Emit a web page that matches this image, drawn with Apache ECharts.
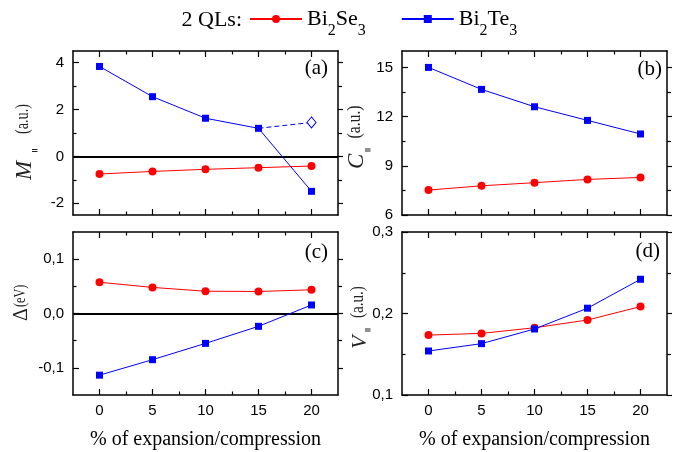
<!DOCTYPE html>
<html><head><meta charset="utf-8">
<script src="https://cdn.jsdelivr.net/npm/echarts@6/dist/echarts.min.js"></script>
<style>html,body{margin:0;padding:0;background:#fff}#c{width:685px;height:452px}</style>
</head><body><div id="c"></div>
<script>
// ---- data ----
const xValues = [0, 5, 10, 15, 20];
const xTicks = [0, 5, 10, 15, 20];
const xMinorTicks = [2.5, 7.5, 12.5, 17.5];
const legendNames = ['Bi2Se3', 'Bi2Te3'];
const legendPrefix = '2 QLs:';
const xTitle = '% of expansion/compression';
const panelLabels = ['(a)', '(b)', '(c)', '(d)'];

// (a) M|| (a.u.)
const M_Se = [-0.75, -0.64, -0.55, -0.48, -0.41];
const M_Te = [3.84, 2.55, 1.63, 1.20, -1.49];
const M_Te_alt = [null, null, null, 1.20, 1.45];
// (b) C|| (a.u.)
const C_Se = [7.52, 7.78, 7.97, 8.17, 8.29];
const C_Te = [15.0, 13.66, 12.60, 11.77, 10.94];
// (c) Delta (eV)
const D_Se = [0.0575, 0.048, 0.041, 0.0405, 0.0436];
const D_Te = [-0.1135, -0.085, -0.055, -0.0236, 0.0157];
// (d) V|| (a.u.)
const V_Se = [0.1735, 0.1756, 0.1825, 0.192, 0.2085];
const V_Te = [0.154, 0.163, 0.181, 0.2065, 0.242];

const yTicksA = [-2, 0, 2, 4], yMinorA = [-1, 1, 3];
const yTicksB = [6, 9, 12, 15], yMinorB = [7.5, 10.5, 13.5];
const yTicksC = [-0.1, 0, 0.1], yMinorC = [-0.05, 0.05];
const yTicksD = [0.1, 0.2, 0.3], yMinorD = [0.15, 0.25];

// ---- layout ----
const RED = '#ff0000', BLUE = '#0000ff';
const SERIF = 'Liberation Serif', SANS = 'Liberation Sans';
const grids = [
  {left: 73, top: 51, width: 265, height: 164},
  {left: 402, top: 51, width: 265, height: 164},
  {left: 73, top: 232, width: 265, height: 163},
  {left: 402, top: 232, width: 265, height: 163}
];
const panels = [
  {range: [-2.5, 4.5], ticks: yTicksA, minor: yMinorA, fmt: v => String(v), se: M_Se, te: M_Te, zero: true},
  {range: [6, 16], ticks: yTicksB, minor: yMinorB, fmt: v => String(v), se: C_Se, te: C_Te, zero: false},
  {range: [-0.15, 0.15], ticks: yTicksC, minor: yMinorC, fmt: v => v.toFixed(1).replace('.', ','), se: D_Se, te: D_Te, zero: true},
  {range: [0.1, 0.3], ticks: yTicksD, minor: yMinorD, fmt: v => v.toFixed(1).replace('.', ','), se: V_Se, te: V_Te, zero: false}
];

const lineSt = {color: '#000', width: 1.5};
const tickSt = {color: '#000', width: 1.2};
const xAxis = [], yAxis = [], series = [];

panels.forEach((p, g) => {
  const bottomRow = g >= 2;
  const xBase = {gridIndex: g, type: 'value', min: -2.5, max: 22.5, splitLine: {show: false}};
  xAxis.push(Object.assign({}, xBase, {
    position: 'bottom',
    axisLine: {show: true, onZero: false, lineStyle: lineSt},
    axisTick: {show: true, inside: true, length: 6, customValues: xTicks, lineStyle: tickSt},
    axisLabel: {show: bottomRow, customValues: xTicks, margin: 8, fontSize: 15, fontFamily: SANS, color: '#000'},
    name: bottomRow ? xTitle : '', nameLocation: 'middle', nameGap: 35,
    nameTextStyle: {fontFamily: SERIF, fontSize: 20, color: '#000'}
  }));
  xAxis.push(Object.assign({}, xBase, {
    position: 'bottom', axisLine: {show: false, onZero: false},
    axisTick: {show: true, inside: true, length: 3.5, customValues: xMinorTicks, lineStyle: tickSt},
    axisLabel: {show: false}
  }));
  xAxis.push(Object.assign({}, xBase, {
    position: 'top', axisLine: {show: true, onZero: false, lineStyle: lineSt},
    axisTick: {show: true, inside: true, length: 6, customValues: xTicks, lineStyle: tickSt},
    axisLabel: {show: false}
  }));
  xAxis.push(Object.assign({}, xBase, {
    position: 'top', axisLine: {show: false, onZero: false},
    axisTick: {show: true, inside: true, length: 3.5, customValues: xMinorTicks, lineStyle: tickSt},
    axisLabel: {show: false}
  }));

  const yBase = {gridIndex: g, type: 'value', min: p.range[0], max: p.range[1], splitLine: {show: false}};
  yAxis.push(Object.assign({}, yBase, {
    position: 'left', axisLine: {show: true, onZero: false, lineStyle: lineSt},
    axisTick: {show: true, inside: true, length: 6, customValues: p.ticks, lineStyle: tickSt},
    axisLabel: {show: true, customValues: p.ticks, formatter: p.fmt, margin: 9, fontSize: 15, fontFamily: SANS, color: '#000'}
  }));
  yAxis.push(Object.assign({}, yBase, {
    position: 'left', axisLine: {show: false, onZero: false},
    axisTick: {show: true, inside: true, length: 3.5, customValues: p.minor, lineStyle: tickSt},
    axisLabel: {show: false}
  }));
  yAxis.push(Object.assign({}, yBase, {
    position: 'right', axisLine: {show: true, onZero: false, lineStyle: lineSt},
    axisTick: {show: true, inside: false, length: 5, customValues: p.ticks, lineStyle: tickSt},
    axisLabel: {show: false}
  }));
  yAxis.push(Object.assign({}, yBase, {
    position: 'right', axisLine: {show: false, onZero: false},
    axisTick: {show: true, inside: false, length: 4, customValues: p.minor, lineStyle: tickSt},
    axisLabel: {show: false}
  }));

  const idx = g * 4;
  const se = {
    type: 'line', name: legendNames[0], xAxisIndex: idx, yAxisIndex: idx,
    data: xValues.map((x, i) => [x, p.se[i]]),
    symbol: 'circle', symbolSize: 8,
    lineStyle: {color: RED, width: 1}, itemStyle: {color: RED}, z: 4
  };
  if (p.zero) {
    se.markLine = {
      silent: true, symbol: ['none', 'none'], label: {show: false}, animation: false,
      lineStyle: {color: '#000', width: 2, type: 'solid'}, emphasis: {disabled: true},
      data: [{yAxis: 0}]
    };
  }
  series.push(se);
  series.push({
    type: 'line', name: legendNames[1], xAxisIndex: idx, yAxisIndex: idx,
    data: xValues.map((x, i) => [x, p.te[i]]),
    symbol: 'rect', symbolSize: 7,
    lineStyle: {color: BLUE, width: 1}, itemStyle: {color: BLUE}, z: 5
  });
});

// dashed alternative branch in (a)
const altLast = M_Te_alt.length - 1;
series.push({
  type: 'line', name: 'Bi2Te3 alt', xAxisIndex: 0, yAxisIndex: 0,
  data: xValues.map((x, i) => ({value: [x, M_Te_alt[i]], symbol: i === altLast ? 'diamond' : 'none'}))
    .filter(d => d.value[1] !== null),
  symbolSize: [9, 11],
  lineStyle: {color: BLUE, width: 1, type: [5, 3]},
  itemStyle: {color: '#fff', borderColor: BLUE, borderWidth: 1}, z: 5
});

// ---- text graphics ----
const graphic = [];
graphic.push({type: 'text', x: 181.5, y: 20, style: {text: legendPrefix, font: '22px "Liberation Serif"', fill: '#000', align: 'left', verticalAlign: 'middle'}});
const labelPos = [[328, 68], [662, 69], [328, 252], [660, 251]];
panelLabels.forEach((t, i) => {
  graphic.push({type: 'text', x: labelPos[i][0], y: labelPos[i][1],
    style: {text: t, font: '21px "Liberation Serif"', fill: '#000', align: 'right', verticalAlign: 'middle'}});
});
// rotated y-axis titles, built piece by piece (symbol, subscript, unit)
const TC = '#222';
const yTitleParts = [
  {t: 'M', font: 'italic 23px "Liberation Serif"', x: 25, y: 180, align: 'left'},
  {t: '‖', font: '13px "DejaVu Sans"', x: 34.5, y: 150.5, align: 'center', sy: 0.45},
  {t: '(a.u.)', font: '18px "Liberation Serif"', x: 23.1, y: 134, align: 'left', sx: 0.79},

  {t: 'C', font: 'italic 23px "Liberation Serif"', x: 357, y: 169, align: 'left'},
  {t: '‖', font: '13px "DejaVu Sans"', x: 367, y: 150, align: 'center', sy: 0.45},
  {t: '(a.u.)', font: '18px "Liberation Serif"', x: 355.6, y: 138.5, align: 'left', sx: 0.87},

  {t: 'Δ', font: '20px "Liberation Serif"', x: 21.5, y: 321, align: 'left'},
  {t: '(eV)', font: '16px "Liberation Serif"', x: 20.6, y: 307, align: 'left', sx: 0.76},

  {t: 'V', font: 'italic 22px "Liberation Serif"', x: 360, y: 349, align: 'left'},
  {t: '‖', font: '13px "DejaVu Sans"', x: 367, y: 330, align: 'center', sy: 0.45},
  {t: '(a.u.)', font: '18px "Liberation Serif"', x: 358.6, y: 318, align: 'left', sx: 0.84}
];
yTitleParts.forEach(p => {
  graphic.push({type: 'text', x: p.x, y: p.y, rotation: Math.PI / 2, scaleX: p.sx || 1, scaleY: p.sy || 1,
    style: {text: p.t, font: p.font, fill: TC, align: p.align, verticalAlign: 'middle'}});
});

const chart = echarts.init(document.getElementById('c'), null, {renderer: 'canvas'});
chart.setOption({
  animation: false,
  backgroundColor: '#fff',
  grid: grids,
  xAxis: xAxis,
  yAxis: yAxis,
  legend: {
    data: legendNames, left: 249, top: 8, padding: 0,
    itemWidth: 52, itemHeight: 10, itemGap: 35,
    formatter: n => n === 'Bi2Se3' ? '{m|Bi}{s|2}{m|Se}{s|3}' : '{m|Bi}{s|2}{m|Te}{s|3}',
    textStyle: {
      rich: {
        m: {fontFamily: SERIF, fontSize: 22, color: '#000'},
        s: {fontFamily: SERIF, fontSize: 16, color: '#000', padding: [24, 0, 0, 0]}
      }
    }
  },
  series: series,
  graphic: graphic
});
</script>
</body></html>
